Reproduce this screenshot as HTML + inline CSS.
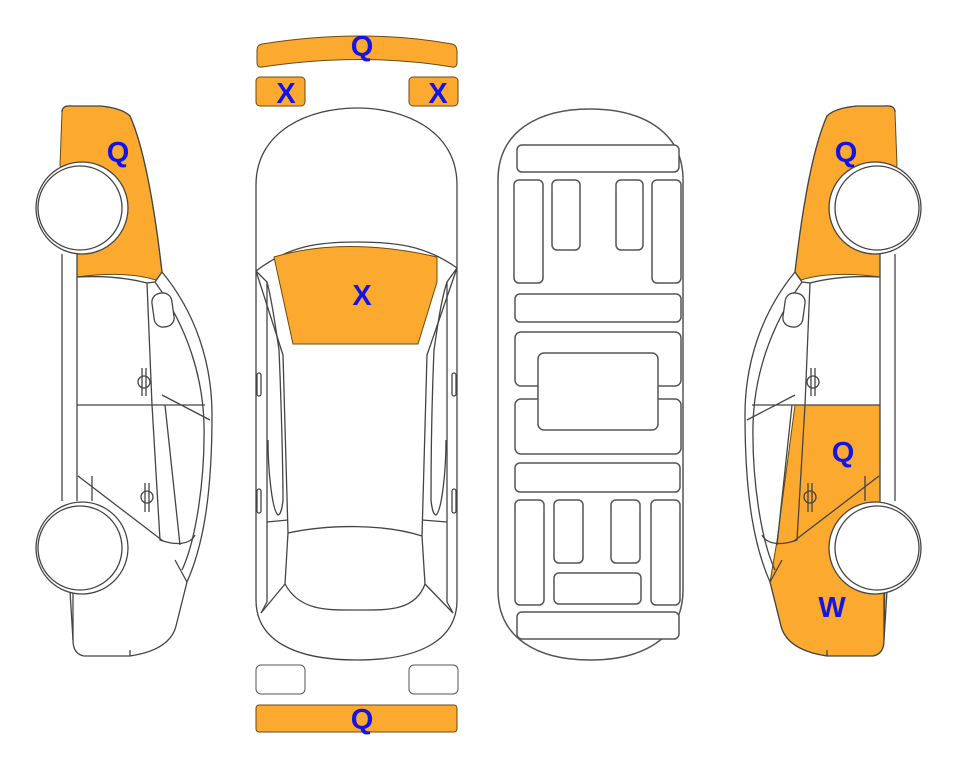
<!DOCTYPE html>
<html><head><meta charset="utf-8"><style>
html,body{margin:0;padding:0;background:#fff;}
svg{display:block}
text{font-family:"Liberation Sans",Arial,sans-serif;font-weight:bold;font-size:29px;fill:#1414E6;text-anchor:middle}
</style></head><body>
<svg width="963" height="768" viewBox="0 0 963 768" xmlns="http://www.w3.org/2000/svg">
<defs>
<g id="side" fill="none" stroke="#444" stroke-width="1.3">
  <path d="M62,112 Q62,105 72,106 L100,106 Q122,108 130,116 C146,152 156,220 162,272 C195,312 212,362 212,415 C212,500 202,548 187,582 L176,626 Q170,650 130,656 L84,656 Q73,654 73,640 L70,591"/>
  <path d="M62,254 L62,501 M77,254 L77,501"/>
  <path d="M162,272 L155,282 C188,328 203,378 204,425 C205,480 196,540 182,570"/>
  <path d="M155,282 L147,283 L152,405 L160,540 L163,541 C175,545 190,545 195,535"/>
  <path d="M147,283 C120,276 95,276 77,277"/>
  <path d="M77,405 L205,405 M162,395 L210,420 M78,476 L163,541 M92,501 L92,476"/>
  <path d="M165,405 L180,545 M175,560 L187,582"/>
  <rect x="153" y="293" width="20" height="34" rx="9" transform="rotate(-8 163 310)" fill="#fff"/>
  <path d="M142,368 L142,396 M146,368 L146,396"/><circle cx="144" cy="382" r="6"/>
  <path d="M145,483 L145,512 M149,483 L149,512"/><circle cx="147" cy="497" r="6"/>
  <path d="M73,591 L73,640 M130,656 L130,650"/>
</g>
<g id="wheels" stroke="#444" stroke-width="1.3" fill="#fff">
  <circle cx="82" cy="208" r="46"/><circle cx="80" cy="208" r="42"/>
  <circle cx="82" cy="548" r="46"/><circle cx="80" cy="548" r="42"/>
</g>
</defs>

<!-- left car -->
<path d="M62,112 Q62,105 72,106 L100,106 Q122,108 130,116 C146,152 156,220 162,272 L156,280 C130,272 100,274 77,277 L77,250 L60,165 Z" fill="#FBAA2F" stroke="#6b4a10" stroke-width="1"/>
<use href="#side"/>
<use href="#wheels"/>
<text x="118" y="162">Q</text>

<!-- right car (mirror) -->
<g transform="matrix(-1,0,0,1,957,0)">
  <path d="M62,112 Q62,105 72,106 L100,106 Q122,108 130,116 C146,152 156,220 162,272 L156,280 C130,272 100,274 77,277 L77,250 L60,165 Z" fill="#FBAA2F" stroke="#6b4a10" stroke-width="1"/>
  <path d="M162,405 L77,405 L77,505 L72,588 L73,640 Q73,654 84,656 L130,656 Q170,650 176,626 L187,582 L180,541 Z" fill="#FBAA2F" stroke="#6b4a10" stroke-width="1"/>
  <use href="#side"/>
  <use href="#wheels"/>
</g>
<text x="846" y="162">Q</text>
<text x="843" y="462">Q</text>
<text x="832" y="617">W</text>

<!-- top tiles -->
<path d="M262,44 Q362,28 452,44 Q457,45 457,52 L457,62 Q457,68 452,67 Q362,52 262,67 Q257,68 257,62 L257,50 Q257,45 262,44 Z" fill="#FBAA2F" stroke="#6b4a10" stroke-width="1"/>
<rect x="256" y="77" width="49" height="29" rx="4" fill="#FBAA2F" stroke="#6b4a10"/>
<rect x="409" y="77" width="49" height="29" rx="4" fill="#FBAA2F" stroke="#6b4a10"/>
<text x="362" y="56">Q</text>
<text x="286" y="103">X</text>
<text x="438" y="103">X</text>

<!-- center car -->
<g fill="none" stroke="#444" stroke-width="1.3">
  <path d="M256,185 C256,130 310,108 357,108 C404,108 457,130 457,185 L457,600 C457,640 420,660 357,660 C294,660 256,640 256,600 Z"/>
  <path d="M256,271 C290,245 320,242 357,242 C394,242 425,245 457,268"/>
  <path d="M256,271 L283,355 L288,533 L285,584 M457,268 L427,355 L422,536 L425,584"/>
  <path d="M256,271 L267,282 L267,602 L261,613 M457,268 L447,282 L447,602 L453,613"/>
  <path d="M267,282 C272,300 276,330 279,350 C282,420 283,480 283,500 C282,510 280,515 278,515 C272,510 268,470 268,440"/>
  <path d="M447,282 C441,300 437,330 434,350 C431,420 431,480 431,500 C432,510 434,515 436,515 C442,510 446,470 446,440"/>
  <path d="M288,533 C330,524 385,524 422,536 M285,584 C300,612 330,610 357,610 C385,610 415,612 425,584"/>
  <path d="M285,584 L261,613 M425,584 L453,613 M267,522 L288,520 M447,522 L422,520"/>
  <rect x="257" y="373" width="4" height="23" rx="2"/><rect x="452" y="373" width="4" height="23" rx="2"/>
  <rect x="257" y="489" width="4" height="24" rx="2"/><rect x="452" y="489" width="4" height="24" rx="2"/>
</g>
<path d="M274,257 Q345,236 437,257 L437,282 L418,344 L293,344 Z" fill="#FBAA2F" stroke="#6b4a10" stroke-width="1"/>
<text x="362" y="305">X</text>

<!-- bottom tiles -->
<rect x="256" y="665" width="49" height="29" rx="5" fill="#fff" stroke="#555"/>
<rect x="409" y="665" width="49" height="29" rx="5" fill="#fff" stroke="#555"/>
<rect x="256" y="705" width="201" height="27" rx="3" fill="#FBAA2F" stroke="#6b4a10"/>
<text x="362" y="729">Q</text>

<!-- floor plan -->
<g fill="#fff" stroke="#555" stroke-width="1.5">
  <path d="M498,180 C498,130 540,109 590,109 C640,109 683,130 683,180 L683,590 C683,640 640,660 590,660 C540,660 498,640 498,590 Z"/>
  <rect x="517" y="145" width="162" height="27" rx="5"/>
  <rect x="514" y="180" width="29" height="103" rx="5"/>
  <rect x="552" y="180" width="28" height="70" rx="5"/>
  <rect x="616" y="180" width="27" height="70" rx="5"/>
  <rect x="652" y="180" width="29" height="103" rx="5"/>
  <rect x="515" y="294" width="166" height="28" rx="5"/>
  <rect x="515" y="332" width="166" height="54" rx="6"/>
  <rect x="515" y="399" width="166" height="55" rx="6"/>
  <rect x="538" y="353" width="120" height="77" rx="6"/>
  <rect x="515" y="463" width="165" height="29" rx="5"/>
  <rect x="515" y="500" width="29" height="105" rx="5"/>
  <rect x="554" y="500" width="29" height="63" rx="5"/>
  <rect x="611" y="500" width="29" height="63" rx="5"/>
  <rect x="651" y="500" width="29" height="105" rx="5"/>
  <rect x="554" y="573" width="87" height="31" rx="5"/>
  <rect x="517" y="612" width="162" height="27" rx="5"/>
</g>
</svg>
</body></html>
